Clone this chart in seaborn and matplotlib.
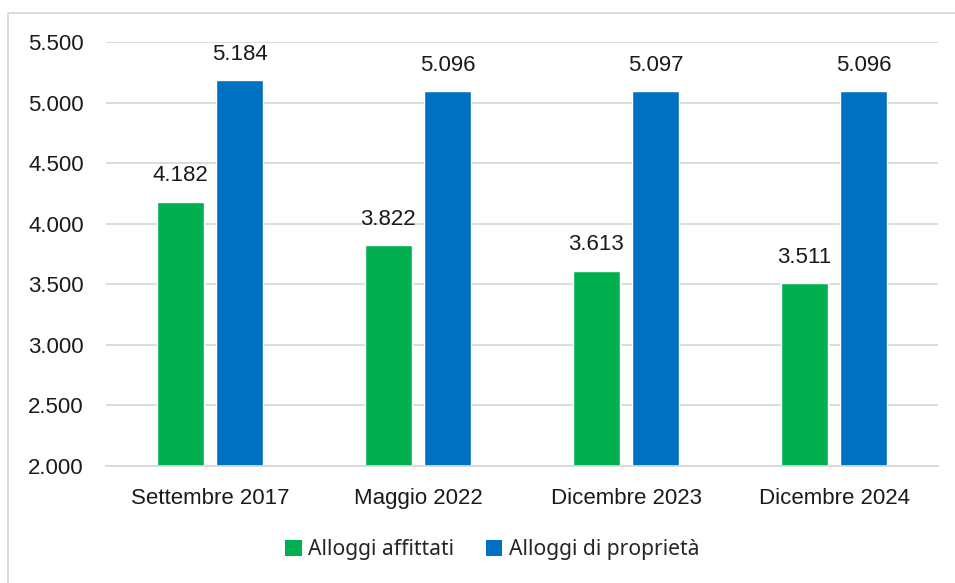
import matplotlib
matplotlib.use("Agg")
import matplotlib.pyplot as plt
import seaborn as sns
import pandas as pd
from matplotlib.patches import Rectangle, Patch

categories = ["Settembre 2017", "Maggio 2022", "Dicembre 2023", "Dicembre 2024"]
series_names = ["Alloggi affittati", "Alloggi di proprietà"]
affittati = [4182, 3822, 3613, 3511]
proprieta = [5184, 5096, 5097, 5096]
yticks = [2000, 2500, 3000, 3500, 4000, 4500, 5000, 5500]
colors = ["#00B050", "#0070C0"]

df = pd.DataFrame({
    "cat": categories * 2,
    "serie": [series_names[0]] * 4 + [series_names[1]] * 4,
    "val": affittati + proprieta,
})

def fmt(v):
    return f"{v:,}".replace(",", ".")

sns.set_style("white")
plt.rcParams["font.family"] = ["Liberation Sans", "DejaVu Sans"]

fig = plt.figure(figsize=(9.55, 5.83), dpi=100)
ax = fig.add_axes([106/955, 1-466/583, (938-106)/955, (466-42)/583])

sns.barplot(data=df, x="cat", y="val", hue="serie", palette=colors,
            width=0.57, gap=0.2, ax=ax, legend=False, saturation=1)

ax.set_ylim(2000, 5500)
ax.set_yticks(yticks)
ax.set_yticklabels([fmt(t) for t in yticks], fontsize=16, color="#1a1a1a")
ax.set_xticklabels(categories, fontsize=16, color="#1a1a1a")
ax.set_xlabel("")
ax.set_ylabel("")
ax.tick_params(axis="both", length=0)
ax.tick_params(axis="y", pad=16)
ax.tick_params(axis="x", pad=16)
ax.yaxis.grid(True, color="#D9D9D9", linewidth=1.3)
ax.set_axisbelow(True)
for s in ["top", "right", "left"]:
    ax.spines[s].set_visible(False)
ax.spines["bottom"].set_color("#D9D9D9")
ax.spines["bottom"].set_linewidth(1.3)

for cont in ax.containers:
    ax.bar_label(cont, labels=[fmt(int(v)) for v in cont.datavalues],
                 padding=11, fontsize=16, color="#1a1a1a")

handles = [Patch(facecolor=c, edgecolor="none") for c in colors]
fig.legend(handles, series_names, loc="center", bbox_to_anchor=(492/955, 1-550/583),
           ncol=2, frameon=False, handlelength=0.8, handleheight=0.8,
           handletextpad=0.3, columnspacing=1.5,
           prop={"family": ["Noto Sans", "DejaVu Sans"], "size": 15.2})

fig.patches.append(Rectangle((8/955, -0.1), 1.2, 1.1 - 13/583, transform=fig.transFigure,
                             fill=False, edgecolor="#D9D9D9", linewidth=1.3))

fig.savefig("out.png", dpi=100)
